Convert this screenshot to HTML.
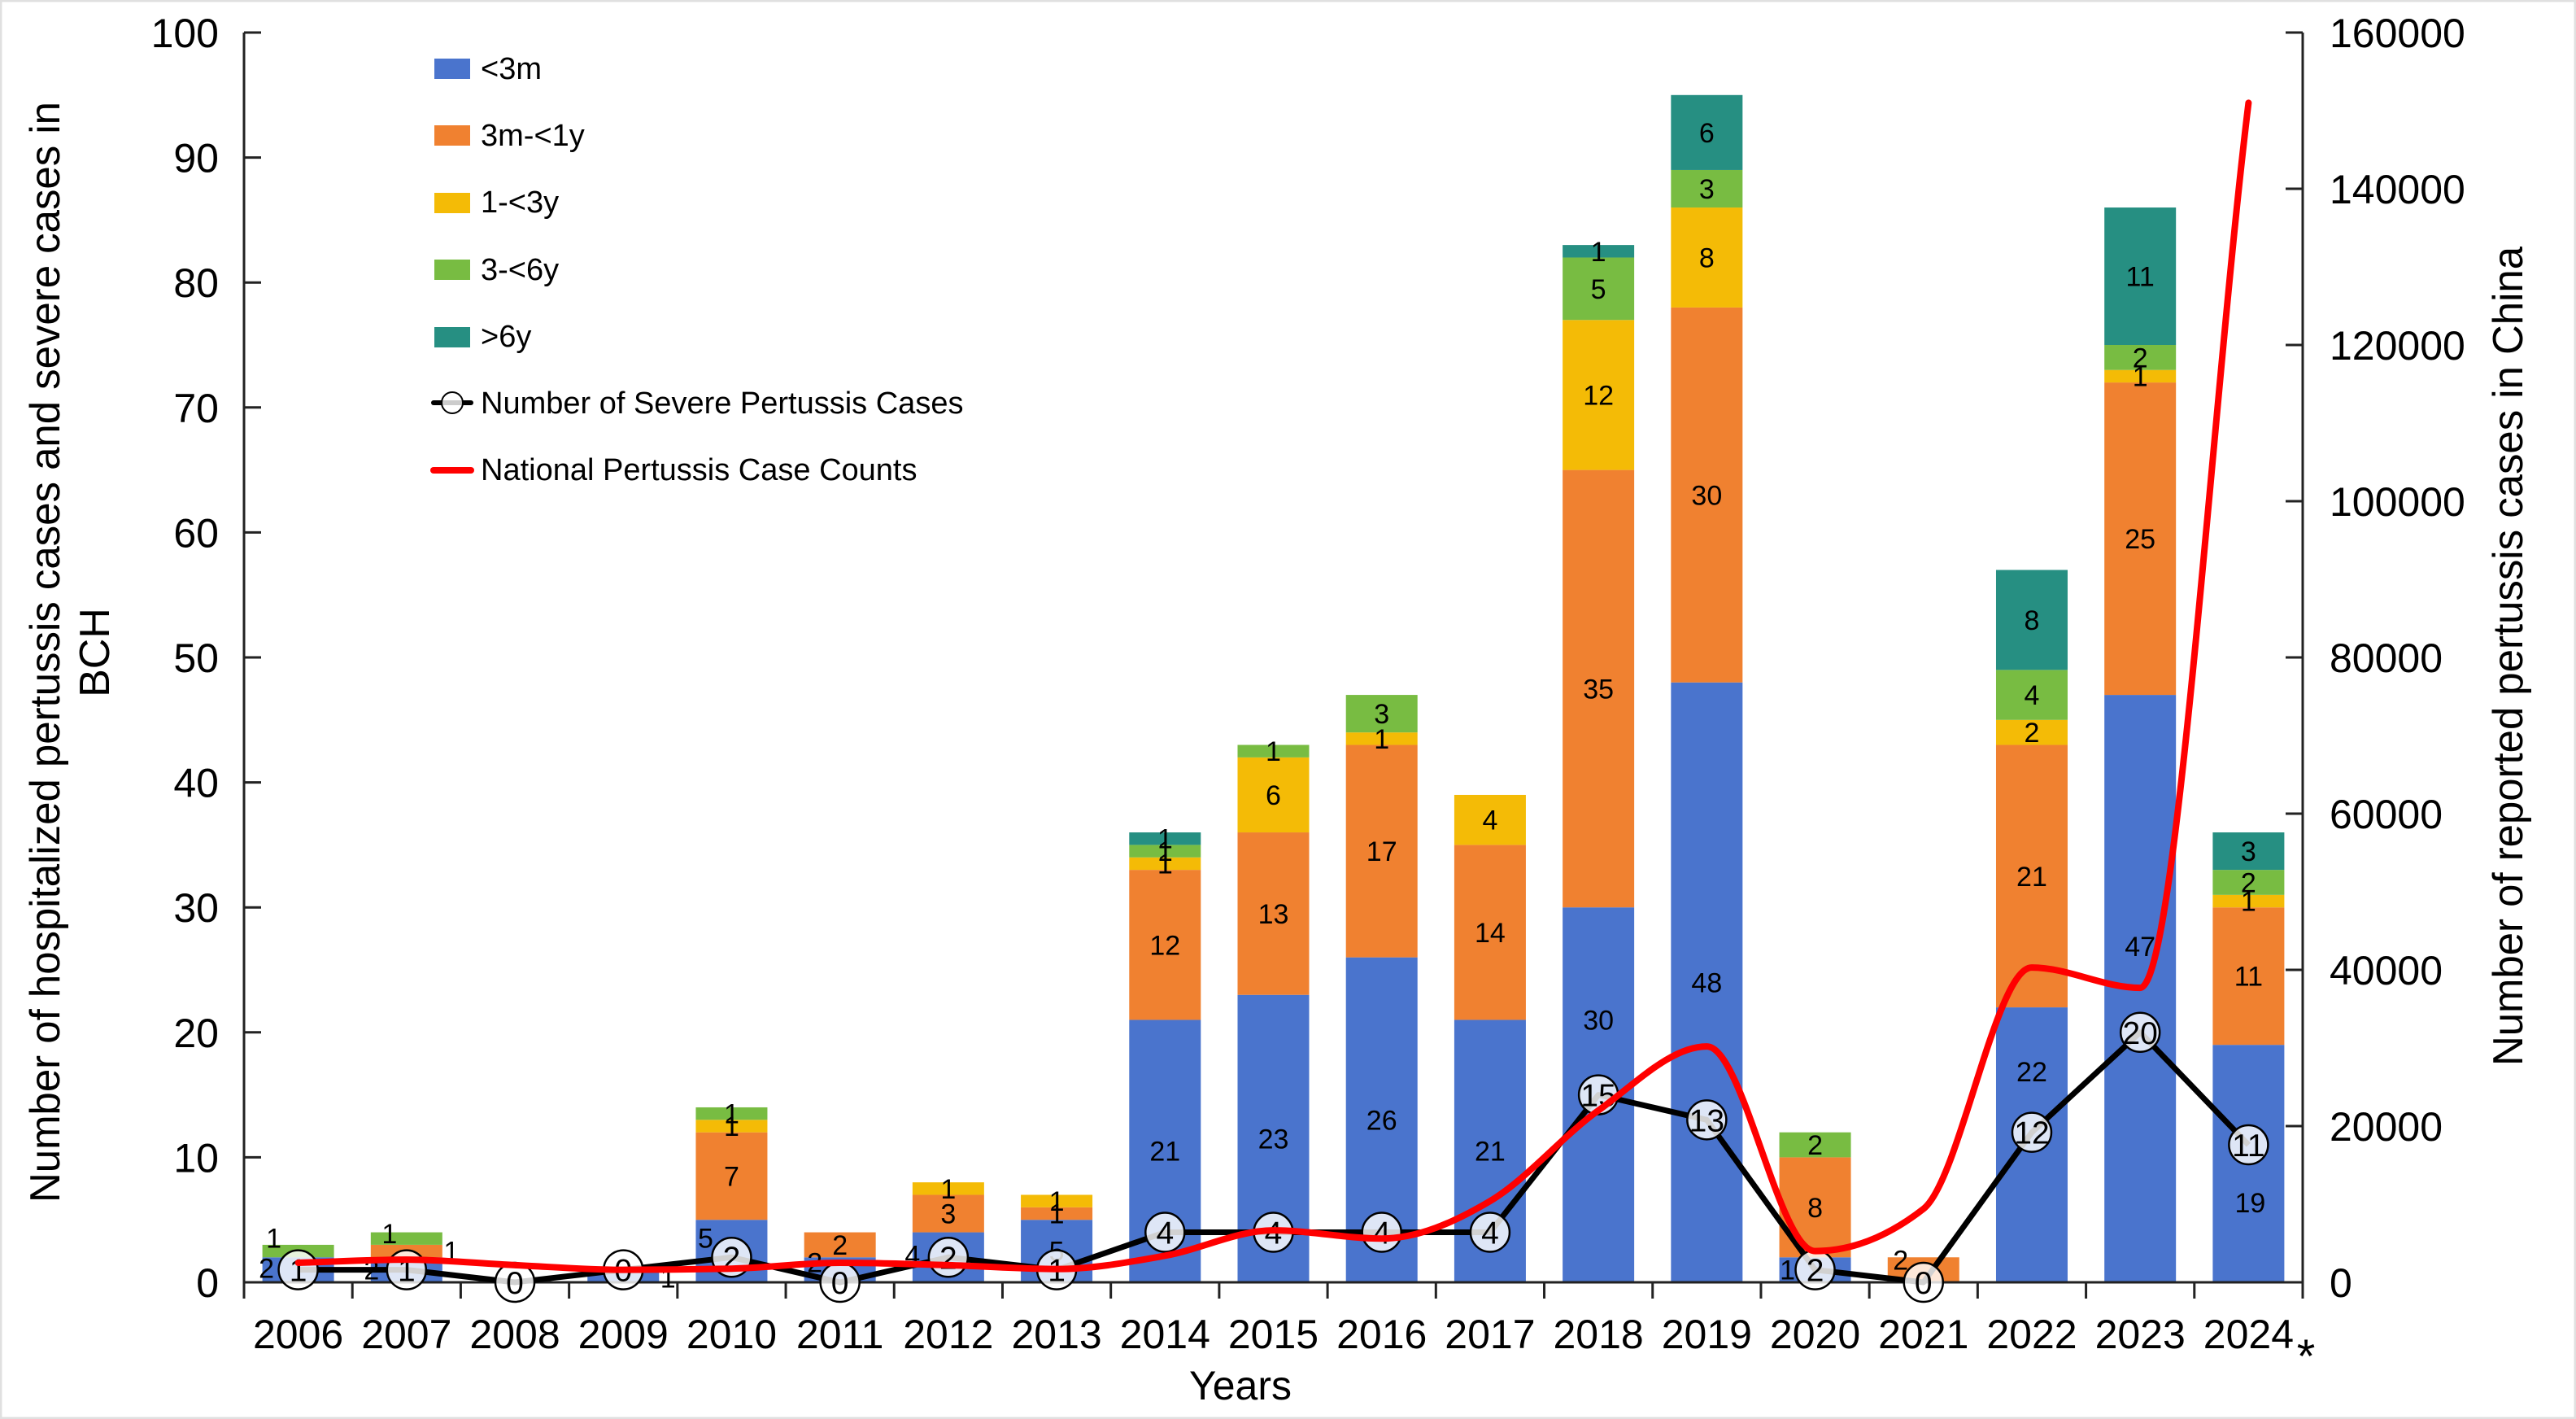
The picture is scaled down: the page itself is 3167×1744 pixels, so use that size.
<!DOCTYPE html>
<html lang="en">
<head>
<meta charset="utf-8">
<title>Hospitalized pertussis cases in BCH and national case counts</title>
<style>
html,body{margin:0;padding:0;background:#fff;}
svg{display:block;font-family:"Liberation Sans",Arial,sans-serif;fill:#000;}
</style>
</head>
<body>
<svg id="chart" xmlns="http://www.w3.org/2000/svg" width="3167" height="1744" viewBox="0 0 3167 1744">
  <rect x="1" y="1" width="3165" height="1742" fill="#fff" stroke="#e0e0e0" stroke-width="3"/>
  <g id="bars"></g>
  <g id="axes"></g>
  <g id="barLabels"></g>
  <g id="severe"></g>
  <g id="national"></g>

  <text transform="translate(73,1478) rotate(-90)" font-size="52" textLength="1353" lengthAdjust="spacingAndGlyphs">Number of hospitalized pertussis cases and severe cases in</text>
  <text transform="translate(134,802) rotate(-90)" font-size="52" text-anchor="middle">BCH</text>
  <text transform="translate(3101,1310) rotate(-90)" font-size="52" textLength="1007" lengthAdjust="spacingAndGlyphs">Number of reported pertussis cases in China</text>
  <text x="1525" y="1720" font-size="50" text-anchor="middle">Years</text>
  <text x="2835" y="1687" font-size="58" text-anchor="middle">*</text>

  <g font-size="38">
    <g>
      <rect x="534" y="72" width="44" height="25" fill="#4A74CD"/>
      <text x="591" y="97">&lt;3m</text>
    </g>
    <g>
      <rect x="534" y="154" width="44" height="25" fill="#F08130"/>
      <text x="591" y="179">3m-&lt;1y</text>
    </g>
    <g>
      <rect x="534" y="237" width="44" height="25" fill="#F4BB06"/>
      <text x="591" y="261">1-&lt;3y</text>
    </g>
    <g>
      <rect x="534" y="319" width="44" height="25" fill="#78BC42"/>
      <text x="591" y="344">3-&lt;6y</text>
    </g>
    <g>
      <rect x="534" y="402" width="44" height="25" fill="#268F82"/>
      <text x="591" y="426">&gt;6y</text>
    </g>
    <g>
      <line x1="533" y1="495" x2="579" y2="495" stroke="#000" stroke-width="6" stroke-linecap="round"/>
      <circle cx="556" cy="495" r="13" fill="#fff" fill-opacity="0.8" stroke="#000" stroke-width="2"/>
      <text x="591" y="508">Number of Severe Pertussis Cases</text>
    </g>
    <g>
      <line x1="533" y1="578" x2="579" y2="578" stroke="#FF0000" stroke-width="8" stroke-linecap="round"/>
      <text x="591" y="590">National Pertussis Case Counts</text>
    </g>
  </g>
</svg>
<script>
// ---- data ----
const years = [2006,2007,2008,2009,2010,2011,2012,2013,2014,2015,2016,2017,2018,2019,2020,2021,2022,2023,2024];
const under3m   = [2,2,0,1,5,2,4,5,21,23,26,21,30,48,2,0,22,47,19];
const m3to1y    = [0,1,0,0,7,2,3,1,12,13,17,14,35,30,8,2,21,25,11];
const y1to3     = [0,0,0,0,1,0,1,1,1,6,1,4,12,8,0,0,2,1,1];
const y3to6     = [1,1,0,0,1,0,0,0,1,1,3,0,5,3,2,0,4,2,2];
const over6y    = [0,0,0,0,0,0,0,0,1,0,0,0,1,6,0,0,8,11,3];
const severeCases   = [1,1,0,1,2,0,2,1,4,4,4,4,15,13,1,0,12,20,11];
const nationalCases = [2500,2900,2200,1600,1750,2500,2200,1700,3400,6650,5600,10400,22000,30200,4000,9400,40300,37700,151000];
const leftTicks  = [0,10,20,30,40,50,60,70,80,90,100];
const rightTicks = [0,20000,40000,60000,80000,100000,120000,140000,160000];
const seriesNames = ['under-3m','3m-1y','1-3y','3-6y','over-6y'];
const seriesValues = [under3m,m3to1y,y1to3,y3to6,over6y];
const seriesColors = ['#4A74CD','#F08130','#F4BB06','#78BC42','#268F82'];
// the printed label differs from the drawn height here in the source figure
const labelOverrides = {'2020-0':'1'};
const severeLabelOverrides = {2009:'0',2020:'2'};
// hand-placed label shifts [dx, dy], keyed year-seriesIndex
const labelNudges = {
  '2006-0':[-39,-2],'2006-3':[-30,-16],
  '2007-0':[-43,0],'2007-1':[55,0],'2007-3':[-21,-6],
  '2009-0':[55,2],
  '2010-0':[-32,-16],
  '2011-0':[-31,-9],
  '2012-0':[-44,-3],
  '2018-0':[0,-92],
  '2020-0':[-34,0],
  '2021-1':[-28,-12],
  '2022-0':[0,-90],
  '2023-0':[0,-52],
  '2024-0':[2,48]
};

// ---- axis functions ----
const plotLeft = 300, plotRight = 2831, plotTop = 40, plotBottom = 1576;
const barWidth = 88;
const bandWidth = (plotRight - plotLeft) / years.length;
function xCenter(i){ return plotLeft + bandWidth * (i + 0.5); }
function yLeft(v){ return plotBottom - (v / 100) * (plotBottom - plotTop); }
function yRight(v){ return plotBottom - (v / 160000) * (plotBottom - plotTop); }

const NS = 'http://www.w3.org/2000/svg';
function make(tag, attrs, parent, text){
  const el = document.createElementNS(NS, tag);
  for (const k in attrs) el.setAttribute(k, attrs[k]);
  if (text !== undefined) el.textContent = text;
  parent.appendChild(el);
  return el;
}
const gBars = document.getElementById('bars');
const gAxes = document.getElementById('axes');
const gLabels = document.getElementById('barLabels');
const gSevere = document.getElementById('severe');
const gNational = document.getElementById('national');

// ---- stacked bars ----
years.forEach(function(year, i){
  let base = 0;
  seriesValues.forEach(function(values, s){
    const v = values[i];
    if (!v) return;
    const top = base + v;
    const rect = make('rect', {x:xCenter(i)-barWidth/2, y:yLeft(top), width:barWidth, height:yLeft(base)-yLeft(top), fill:seriesColors[s]}, gBars);
    
    
    const key = year + '-' + s;
    const nudge = labelNudges[key] || [0,0];
    const printed = labelOverrides[key] !== undefined ? labelOverrides[key] : String(v);
    const label = make('text', {x:xCenter(i)+nudge[0], y:yLeft(base+v/2)+nudge[1]+12, 'font-size':34, 'text-anchor':'middle'}, gLabels, printed);
    
    
    base = top;
  });
});

// ---- axes ----
const axisColor = '#222';
const axisLeft = make('line', {x1:plotLeft, y1:plotTop, x2:plotLeft, y2:plotBottom+20, stroke:axisColor, 'stroke-width':3}, gAxes);


const axisRight = make('line', {x1:plotRight, y1:plotTop, x2:plotRight, y2:plotBottom+20, stroke:axisColor, 'stroke-width':3}, gAxes);


const axisBottom = make('line', {x1:plotLeft, y1:plotBottom, x2:plotRight, y2:plotBottom, stroke:axisColor, 'stroke-width':3}, gAxes);



leftTicks.forEach(function(t){
  const tick = make('line', {x1:plotLeft, y1:yLeft(t), x2:plotLeft+21, y2:yLeft(t), stroke:axisColor, 'stroke-width':3}, gAxes);
  
  
  const label = make('text', {x:269, y:yLeft(t)+18, 'font-size':50, 'text-anchor':'end'}, gAxes, String(t));
  
  
});
rightTicks.forEach(function(t){
  const tick = make('line', {x1:plotRight-21, y1:yRight(t), x2:plotRight, y2:yRight(t), stroke:axisColor, 'stroke-width':3}, gAxes);
  
  
  const label = make('text', {x:2864, y:yRight(t)+18, 'font-size':50}, gAxes, String(t));
  
  
});
years.forEach(function(year, i){
  const tx = plotLeft + bandWidth * (i + 1);
  if (i < years.length - 1) {
    const tick = make('line', {x1:tx, y1:plotBottom, x2:tx, y2:plotBottom+20, stroke:axisColor, 'stroke-width':3}, gAxes);
    
    
  }
  const label = make('text', {x:xCenter(i), y:1657, 'font-size':50, 'text-anchor':'middle'}, gAxes, String(year));
  
  
});

// ---- severe cases line + markers ----
const severePoints = severeCases.map(function(v, i){ return xCenter(i) + ',' + yLeft(v); }).join(' ');
const severeLine = make('polyline', {points:severePoints, fill:'none', stroke:'#000', 'stroke-width':7, 'stroke-linejoin':'round'}, gSevere);


severeCases.forEach(function(v, i){
  const marker = make('circle', {cx:xCenter(i), cy:yLeft(v), r:24, fill:'#fff', 'fill-opacity':0.82, stroke:'#000', 'stroke-width':2.5}, gSevere);
  
  
  const printed = severeLabelOverrides[years[i]] !== undefined ? severeLabelOverrides[years[i]] : String(v);
  const label = make('text', {x:xCenter(i), y:yLeft(v)+14, 'font-size':39, 'text-anchor':'middle'}, gSevere, printed);
  
  
});

// ---- national cases: monotone smoothed curve ----
function smoothPath(xs, ys){
  const n = xs.length, d = [], m = [];
  for (let i = 0; i < n - 1; i++) d.push((ys[i+1]-ys[i])/(xs[i+1]-xs[i]));
  m[0] = d[0];
  for (let i = 1; i < n - 1; i++) {
    if (d[i-1] * d[i] <= 0) { m[i] = 0; continue; }
    const h0 = xs[i]-xs[i-1], h1 = xs[i+1]-xs[i], p = (d[i-1]*h1 + d[i]*h0)/(h0+h1);
    m[i] = Math.sign(d[i]) * Math.min(Math.abs(d[i-1]), Math.abs(d[i]), 0.5*Math.abs(p)) * 2;
  }
  m[n-1] = d[n-2];
  let out = 'M' + xs[0] + ',' + ys[0];
  for (let i = 0; i < n - 1; i++) {
    const h = (xs[i+1]-xs[i])/3;
    out += 'C' + (xs[i]+h) + ',' + (ys[i]+m[i]*h) + ' ' + (xs[i+1]-h) + ',' + (ys[i+1]-m[i+1]*h) + ' ' + xs[i+1] + ',' + ys[i+1];
  }
  return out;
}
const natXs = nationalCases.map(function(v, i){ return xCenter(i); });
const natYs = nationalCases.map(function(v){ return yRight(v); });
const natLine = make('path', {d:smoothPath(natXs, natYs), fill:'none', stroke:'#FF0000', 'stroke-width':8, 'stroke-linecap':'round', 'stroke-linejoin':'round'}, gNational);


</script>
</body>
</html>
